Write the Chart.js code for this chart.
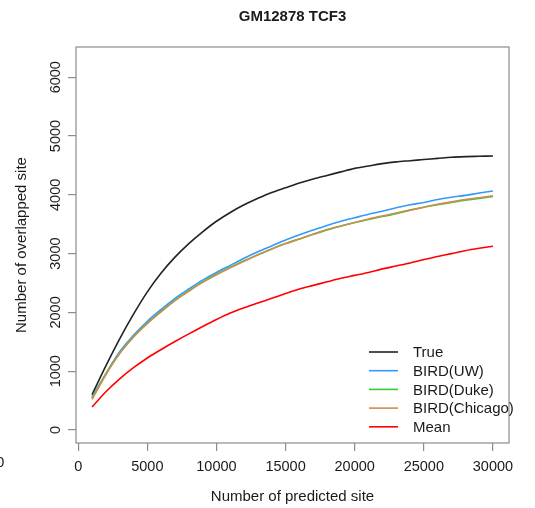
<!DOCTYPE html>
<html>
<head>
<meta charset="utf-8">
<script src="https://cdn.jsdelivr.net/npm/chart.js@4"></script>
<style>
  html, body { margin: 0; padding: 0; background: #fff; }
  #wrap { width: 535px; height: 508px; position: relative; }
</style>
</head>
<body>
<div id="wrap"><canvas id="plot"></canvas></div>
<script>
// Number of predicted sites (x) and overlaps for each method
const sites = [1000, 2000, 3000, 4000, 5000, 6000, 7000, 8000, 9000, 10000,
    11000, 12000, 13000, 14000, 15000, 16000, 17000, 18000, 19000, 20000,
    21000, 22000, 23000, 24000, 25000, 26000, 27000, 28000, 29000, 30000];

const trueVals = [600, 1090, 1550, 1970, 2350, 2670, 2940, 3170, 3370, 3550,
    3700, 3830, 3940, 4040, 4120, 4200, 4270, 4330, 4390, 4450,
    4490, 4530, 4560, 4580, 4600, 4620, 4640, 4650, 4655, 4660];
const birdUW = [560, 960, 1330, 1610, 1850, 2050, 2240, 2400, 2550, 2680,
    2800, 2920, 3030, 3130, 3230, 3320, 3400, 3480, 3550, 3610,
    3670, 3720, 3780, 3830, 3870, 3920, 3960, 3990, 4030, 4065];
const birdDuke = [540, 950, 1310, 1590, 1820, 2020, 2210, 2370, 2520, 2650,
    2770, 2880, 2980, 3080, 3170, 3250, 3330, 3400, 3470, 3530,
    3580, 3630, 3680, 3740, 3790, 3830, 3870, 3910, 3940, 3970];
const birdChicago = [520, 940, 1300, 1580, 1810, 2010, 2200, 2360, 2510, 2640,
    2760, 2870, 2980, 3080, 3170, 3250, 3330, 3410, 3470, 3530,
    3590, 3640, 3690, 3740, 3790, 3840, 3880, 3920, 3950, 3985];
const meanVals = [390, 650, 870, 1060, 1225, 1370, 1505, 1635, 1760, 1880,
    1990, 2080, 2160, 2240, 2320, 2400, 2460, 2520, 2580, 2630,
    2680, 2740, 2790, 2840, 2900, 2950, 3000, 3050, 3090, 3125];

const seriesNames = ['True', 'BIRD(UW)', 'BIRD(Duke)', 'BIRD(Chicago)', 'Mean'];
const seriesColors = ['#222222', '#3399ff', '#33cc33', '#d08c50', '#ff0000'];

const xTicks = [0, 5000, 10000, 15000, 20000, 25000, 30000];
const yTicks = [0, 1000, 2000, 3000, 4000, 5000, 6000];

const FONT = "'Liberation Sans', Arial, sans-serif";
const TEXT = '#1a1a1a';
const AXIS = '#8c8c8c';

const allSeries = [trueVals, birdUW, birdDuke, birdChicago, meanVals];

// later series are drawn on top, as in R
const datasets = allSeries.map((vals, i) => ({
    label: seriesNames[i],
    data: sites.map((x, j) => ({ x: x, y: vals[j] })),
    borderColor: seriesColors[i],
    borderWidth: 1.6,
    pointRadius: 0,
    tension: 0.3,
    fill: false,
    order: allSeries.length - i
}));

// box, rotated labels, title and legend, in R base-graphics style
const decor = {
    id: 'decor',
    afterDraw(chart) {
        const ctx = chart.ctx;
        const a = chart.chartArea;
        const ys = chart.scales.y;
        ctx.save();
        ctx.strokeStyle = AXIS;
        ctx.lineWidth = 1.2;
        ctx.strokeRect(a.left, a.top, a.right - a.left, a.bottom - a.top);

        ctx.fillStyle = TEXT;
        // title
        ctx.font = 'bold 15px ' + FONT;
        ctx.textAlign = 'center';
        ctx.textBaseline = 'middle';
        ctx.fillText('GM12878 TCF3', (a.left + a.right) / 2, 17);

        // y tick labels, rotated like R
        ctx.font = '14.5px ' + FONT;
        yTicks.forEach(v => {
            const py = ys.getPixelForValue(v);
            ctx.save();
            ctx.translate(56, py);
            ctx.rotate(-Math.PI / 2);
            ctx.fillText(String(v), 0, 0);
            ctx.restore();
        });

        // axis titles
        ctx.font = '15px ' + FONT;
        ctx.fillText('Number of predicted site', (a.left + a.right) / 2, 497);
        ctx.save();
        ctx.translate(22, (a.top + a.bottom) / 2);
        ctx.rotate(-Math.PI / 2);
        ctx.fillText('Number of overlapped site', 0, 0);
        ctx.restore();

        // stray label cut off at the left edge
        ctx.textAlign = 'left';
        ctx.fillText('0', -4, 463);

        // legend
        const lx = 369, tx = 413;
        chart.data.datasets.forEach((ds, i) => {
            const ly = 352 + i * 18.7;
            ctx.strokeStyle = ds.borderColor;
            ctx.lineWidth = 1.6;
            ctx.beginPath();
            ctx.moveTo(lx, ly);
            ctx.lineTo(lx + 29, ly);
            ctx.stroke();
            ctx.fillStyle = TEXT;
            ctx.textAlign = 'left';
            ctx.font = '15px ' + FONT;
            ctx.fillText(ds.label, tx, ly + 1);
        });
        ctx.restore();
    }
};

new Chart(document.getElementById('plot'), {
    type: 'line',
    data: { datasets: datasets },
    options: {
        responsive: true,
        maintainAspectRatio: false,
        animation: false,
        layout: { padding: { left: 0, top: 47, right: 26, bottom: 0 } },
        plugins: {
            legend: { display: false },
            title: { display: false },
            tooltip: { enabled: false }
        },
        scales: {
            x: {
                type: 'linear',
                min: -160,
                max: 31160,
                afterBuildTicks: s => { s.ticks = xTicks.map(v => ({ value: v })); },
                afterFit: s => { s.height = 65; },
                border: { display: false },
                grid: { drawOnChartArea: false, drawTicks: true, tickLength: 8, color: AXIS, lineWidth: 1.2 },
                ticks: {
                    color: TEXT,
                    padding: 7,
                    maxRotation: 0,
                    autoSkip: false,
                    font: { family: FONT, size: 14.5 },
                    callback: v => String(v)
                }
            },
            y: {
                type: 'linear',
                min: -221,
                max: 6514,
                afterBuildTicks: s => { s.ticks = yTicks.map(v => ({ value: v })); },
                afterFit: s => { s.width = 76; },
                border: { display: false },
                grid: { drawOnChartArea: false, drawTicks: true, tickLength: 8, color: AXIS, lineWidth: 1.2 },
                ticks: { display: false }
            }
        }
    },
    plugins: [decor]
});
</script>
</body>
</html>
